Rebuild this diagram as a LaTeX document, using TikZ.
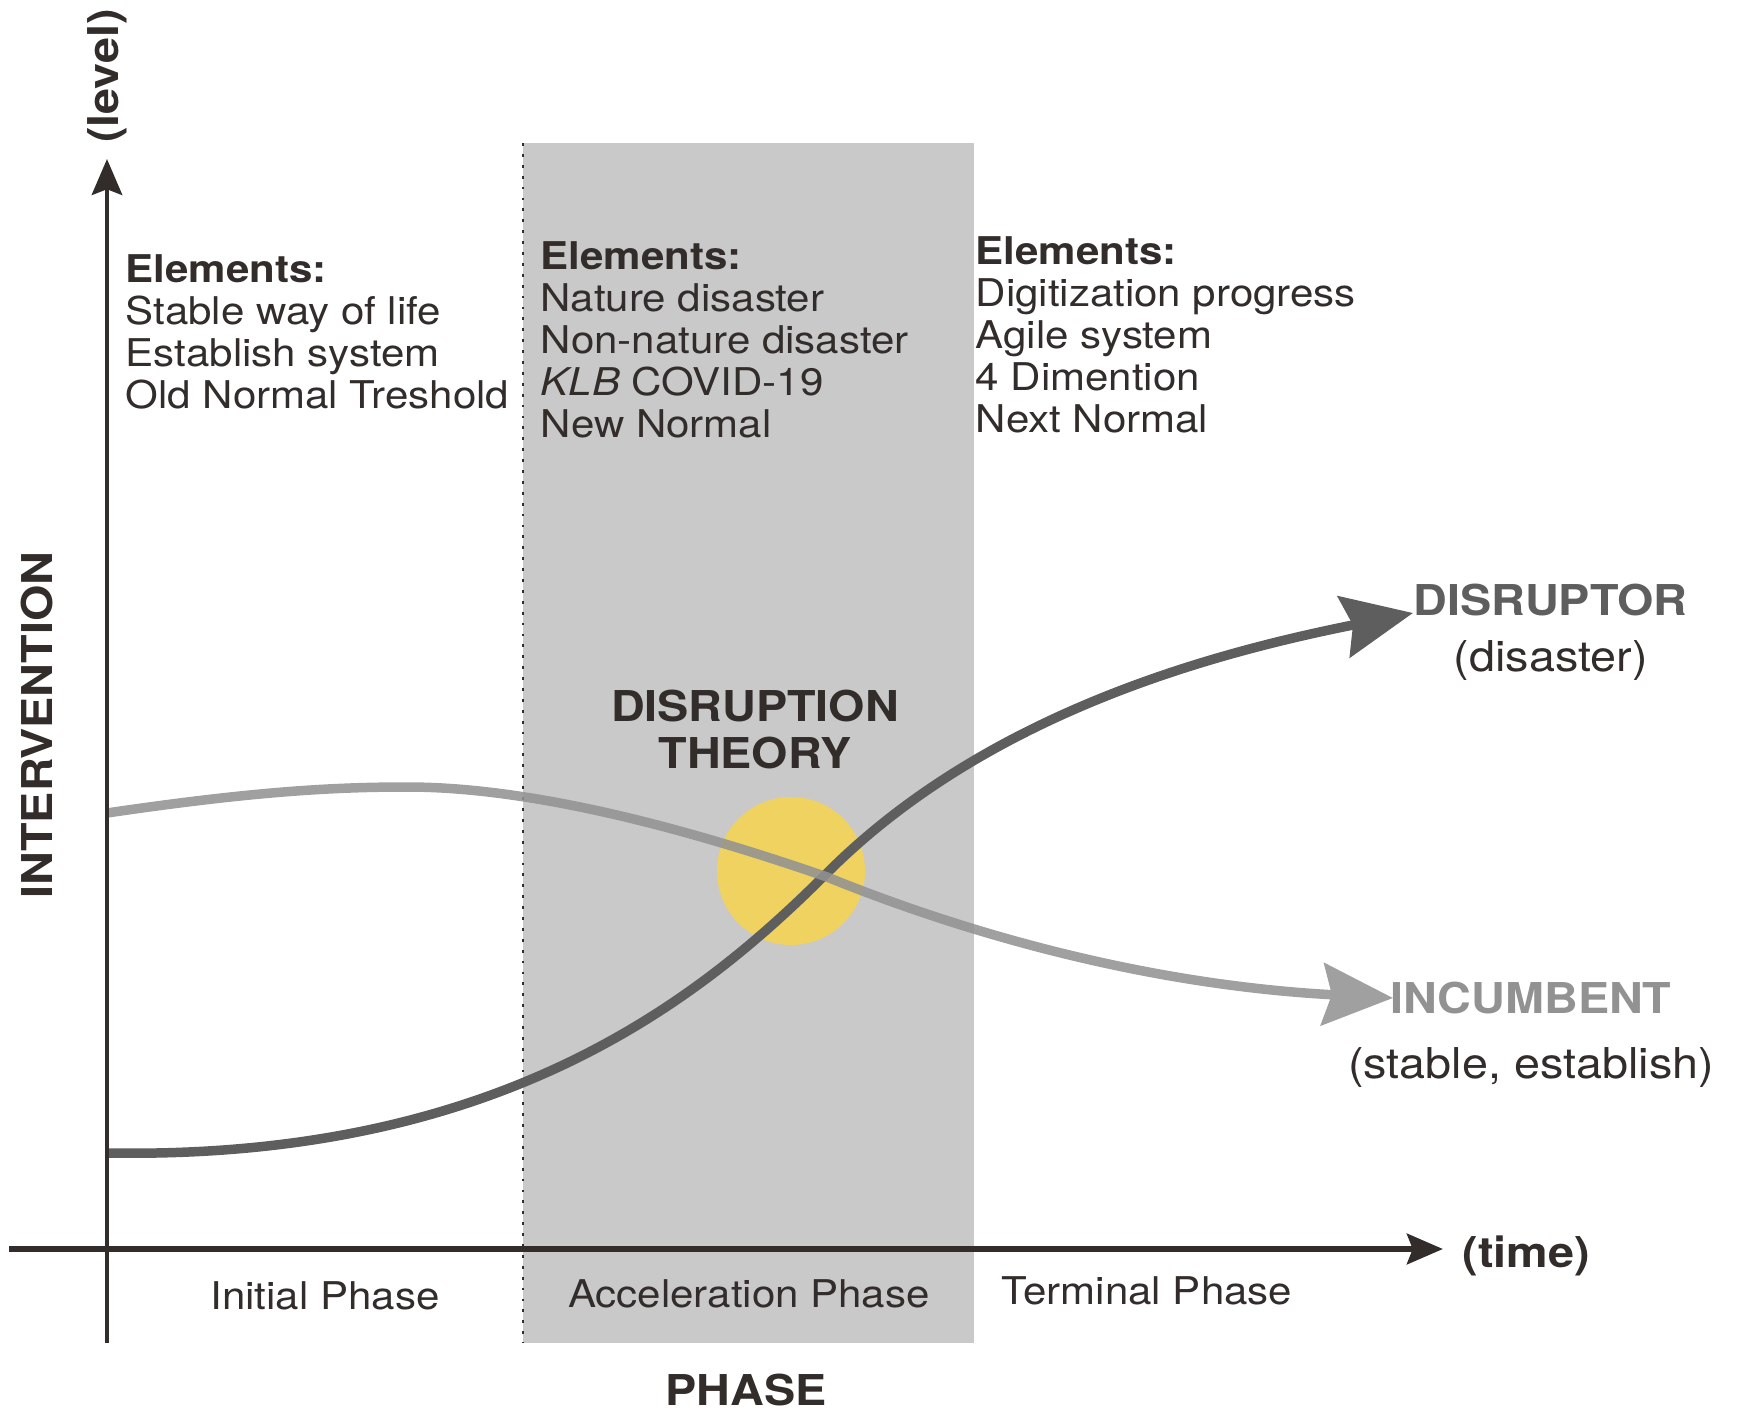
\documentclass[tikz,border=0pt]{standalone}
\usepackage{fontspec}
\setmainfont{TeX Gyre Heros}[FakeStretch=1.1]
\usetikzlibrary{positioning,arrows.meta}

\definecolor{inkdark}{RGB}{50,45,43}
\definecolor{phasegray}{RGB}{201,201,201}
\definecolor{disruptgray}{RGB}{94,94,94}
\definecolor{incumbgray}{RGB}{146,146,146}
\definecolor{labelgray}{RGB}{146,146,146}
\definecolor{sunyellow}{RGB}{239,210,96}

\begin{document}
\begin{tikzpicture}[x=0.01cm,y=-0.01cm,
  elem/.style={anchor=north west,align=left,inner sep=0pt,text=inkdark,font=\fontsize{10.87}{11.95}\selectfont},
  phaselbl/.style={anchor=base,inner sep=0pt,text=inkdark,font=\fontsize{10.87}{11.95}\selectfont},
  bigreg/.style={inner sep=0pt,text=inkdark,font=\fontsize{12.08}{13.37}\selectfont},
  bigbold/.style={inner sep=0pt,text=inkdark,font=\fontsize{12.08}{13.37}\selectfont\bfseries},
  axis/.style={inkdark,-{Stealth[length=10.2pt,width=8.6pt,inset=1.6pt]}},
  trend/.style={line width=2.7pt,-{Stealth[length=20pt,width=17.6pt,inset=2.6pt]}}]

\useasboundingbox (0,0) rectangle (1738,1412);

%-------------------Acceleration band--------------------%
\fill[phasegray] (523,143) rectangle (974,1343);
\draw[inkdark,line width=0.8pt,dash pattern=on 0.8pt off 2.3pt] (523,143) -- (523,1343);
\fill[sunyellow] (791,871) circle (74);
%----------------------------------------------------%

%-------------------Curves--------------------%
\coordinate (dtip) at (1413,613);
\coordinate (itip) at (1393,998);
\draw[trend,disruptgray] (107,1153) .. controls (500,1160) and (700,1000) .. (827,873)
  .. controls (987,713) and (1213,653) .. (dtip);
\begin{scope}[transparency group,opacity=0.87]
\draw[trend,incumbgray] (107,813) .. controls (250,792) and (330,787) .. (407,787)
  .. controls (527,787) and (677,825) .. (827,877)
  .. controls (970,935) and (1150,985) .. (itip);
\end{scope}
%----------------------------------------------------%

%-------------------Axes--------------------%
\coordinate (yfoot) at (107,1343);
\coordinate (ytop) at (107,159);
\coordinate (xstart) at (9,1249);
\coordinate (xend) at (1443,1249);
\draw[axis,line width=1.4pt] (yfoot) -- (ytop);
\draw[axis,line width=1.85pt] (xstart) -- (xend);
\node[bigbold,rotate=90] (levelLbl) at (107,76) {(level)};
\node[bigbold,rotate=90] (interventionLbl) at (37,725) {INTERVENTION};
\node[bigbold,anchor=west] (timeLbl) at (1462,1256) {(time)};
%----------------------------------------------------%

%-------------------Phases--------------------%
\node[phaselbl] (initialLbl) at (325,1309) {Initial Phase};
\node[phaselbl] (accelLbl) at (749,1307) {Acceleration Phase};
\node[phaselbl] (terminalLbl) at (1147,1304) {Terminal Phase};
\node[bigbold,anchor=base] (phaseLbl) at (746,1405) {PHASE};

\node[elem] (initElem) at (125,254) {\textbf{Elements:}\\Stable way of life\\Establish system\\Old Normal Treshold};
\node[elem] (accelElem) at (540,241) {\textbf{Elements:}\\Nature disaster\\Non-nature disaster\\\textit{KLB} COVID-19\\New Normal};
\node[elem] (terminalElem) at (975,236) {\textbf{Elements:}\\Digitization progress\\Agile system\\4 Dimention\\Next Normal};
%----------------------------------------------------%

\node[bigbold,align=center,anchor=north] (theoryLbl) at (755,689) {DISRUPTION\\THEORY};

%-------------------Curve labels--------------------%
\node[bigbold,text=disruptgray,anchor=west] (disruptorLbl) at (1413,600) {DISRUPTOR};
\node[bigreg,below=6.5pt of disruptorLbl] (disasterLbl) {(disaster)};
\node[bigbold,text=labelgray,anchor=west] (incumbentLbl) at (1390,998) {INCUMBENT};
\node[bigreg,below=9.1pt of incumbentLbl] (stableLbl) {(stable, establish)};
%----------------------------------------------------%
\end{tikzpicture}
\end{document}
